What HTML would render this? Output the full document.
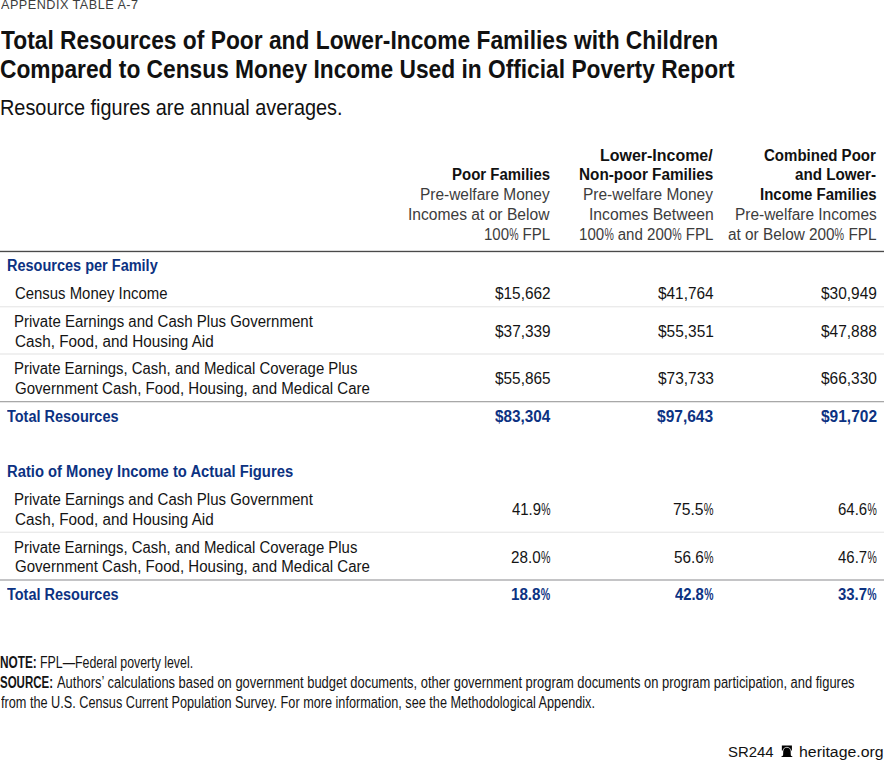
<!DOCTYPE html>
<html><head><meta charset='utf-8'><title>Appendix Table A-7</title><style>
*{margin:0;padding:0;box-sizing:border-box}
html,body{width:884px;height:760px;background:#fff;overflow:hidden}
body{position:relative;font-family:"Liberation Sans",Arial,sans-serif}
.t{position:absolute;white-space:nowrap;transform-origin:0 0}
.hr{position:absolute;left:0;width:884px}
.pc{display:inline-block;width:.622em;transform:scaleX(.7);transform-origin:0 0}
</style></head><body>
<div class="hr" style="top:250px;height:1px;background:#d9d9d9"></div>
<div class="hr" style="top:251px;height:1px;background:#4a4a4a"></div>
<div class="hr" style="top:252px;height:1px;background:#e4e4e4"></div>
<div class="hr" style="top:306px;height:1px;background:#ebebeb"></div>
<div class="hr" style="top:307px;height:1px;background:#f7f7f7"></div>
<div class="hr" style="top:353px;height:2px;background:#f0f0f0"></div>
<div class="hr" style="top:401px;height:1px;background:#a8a8a8"></div>
<div class="hr" style="top:402px;height:1px;background:#e6e6e6"></div>
<div class="hr" style="top:531px;height:1px;background:#f7f7f7"></div>
<div class="hr" style="top:532px;height:1px;background:#ebebeb"></div>
<div class="hr" style="top:579px;height:2px;background:#c4c4c6"></div>

<div class="t" style="top:-3px;left:0.644px;font-size:13px;line-height:16px;font-weight:400;color:#3d3d3d;letter-spacing:0.5px;transform:scaleX(0.9723);">APPENDIX TABLE A-7</div>
<div class="t" style="top:25px;left:0.675px;font-size:25px;line-height:30px;font-weight:700;color:#111;transform:scaleX(0.9112);">Total Resources of Poor and Lower-Income Families with Children</div>
<div class="t" style="top:54px;left:0.413px;font-size:25px;line-height:30px;font-weight:700;color:#111;transform:scaleX(0.9100);">Compared to Census Money Income Used in Official Poverty Report</div>
<div class="t" style="top:94px;left:0.273px;font-size:22.8px;line-height:27px;font-weight:400;color:#111;transform:scaleX(0.8719);">Resource figures are annual averages.</div>
<div class="t" style="top:165px;left:451.559px;font-size:16px;line-height:19px;font-weight:700;color:#111;transform:scaleX(0.9358);">Poor Families</div>
<div class="t" style="top:185px;left:420.083px;font-size:16px;line-height:19px;font-weight:400;color:#3c3c3c;transform:scaleX(0.9655);">Pre-welfare Money</div>
<div class="t" style="top:205px;left:408.080px;font-size:16px;line-height:19px;font-weight:400;color:#3c3c3c;transform:scaleX(0.9755);">Incomes at or Below</div>
<div class="t" style="top:225px;left:483.768px;font-size:16px;line-height:19px;font-weight:400;color:#3c3c3c;transform:scaleX(0.9372);">100<span class="pc">%</span> FPL</div>
<div class="t" style="top:146px;left:600.496px;font-size:16px;line-height:19px;font-weight:700;color:#111;transform:scaleX(0.9979);">Lower-Income/</div>
<div class="t" style="top:165px;left:579.106px;font-size:16px;line-height:19px;font-weight:700;color:#111;transform:scaleX(0.9563);">Non-poor Families</div>
<div class="t" style="top:185px;left:583.430px;font-size:16px;line-height:19px;font-weight:400;color:#3c3c3c;transform:scaleX(0.9676);">Pre-welfare Money</div>
<div class="t" style="top:205px;left:589.186px;font-size:16px;line-height:19px;font-weight:400;color:#3c3c3c;transform:scaleX(0.9804);">Incomes Between</div>
<div class="t" style="top:225px;left:578.699px;font-size:16px;line-height:19px;font-weight:400;color:#3c3c3c;transform:scaleX(0.9418);">100<span class="pc">%</span> and 200<span class="pc">%</span> FPL</div>
<div class="t" style="top:146px;left:764.442px;font-size:16px;line-height:19px;font-weight:700;color:#111;transform:scaleX(0.9390);">Combined Poor</div>
<div class="t" style="top:165px;left:795.054px;font-size:16px;line-height:19px;font-weight:700;color:#111;transform:scaleX(0.9493);">and Lower-</div>
<div class="t" style="top:185px;left:759.750px;font-size:16px;line-height:19px;font-weight:700;color:#111;transform:scaleX(0.9362);">Income Families</div>
<div class="t" style="top:205px;left:734.598px;font-size:16px;line-height:19px;font-weight:400;color:#3c3c3c;transform:scaleX(0.9661);">Pre-welfare Incomes</div>
<div class="t" style="top:225px;left:728.180px;font-size:16px;line-height:19px;font-weight:400;color:#3c3c3c;transform:scaleX(0.9592);">at or Below 200<span class="pc">%</span> FPL</div>
<div class="t" style="top:256px;left:7.446px;font-size:15.8px;line-height:19px;font-weight:700;color:#0c3282;transform:scaleX(0.9179);">Resources per Family</div>
<div class="t" style="top:284px;left:15.124px;font-size:15.8px;line-height:19px;font-weight:400;color:#141414;transform:scaleX(0.9438);">Census Money Income</div>
<div class="t" style="top:312px;left:13.920px;font-size:15.8px;line-height:19px;font-weight:400;color:#141414;transform:scaleX(0.9506);">Private Earnings and Cash Plus Government</div>
<div class="t" style="top:332px;left:14.811px;font-size:15.8px;line-height:19px;font-weight:400;color:#141414;transform:scaleX(0.9672);">Cash, Food, and Housing Aid</div>
<div class="t" style="top:359px;left:14.492px;font-size:15.8px;line-height:19px;font-weight:400;color:#141414;transform:scaleX(0.9446);">Private Earnings, Cash, and Medical Coverage Plus</div>
<div class="t" style="top:379px;left:14.822px;font-size:15.8px;line-height:19px;font-weight:400;color:#141414;transform:scaleX(0.9535);">Government Cash, Food, Housing, and Medical Care</div>
<div class="t" style="top:407px;left:7.039px;font-size:15.8px;line-height:19px;font-weight:700;color:#0c3282;transform:scaleX(0.9160);">Total Resources</div>
<div class="t" style="top:462px;left:7.186px;font-size:15.8px;line-height:19px;font-weight:700;color:#0c3282;transform:scaleX(0.9358);">Ratio of Money Income to Actual Figures</div>
<div class="t" style="top:490px;left:13.920px;font-size:15.8px;line-height:19px;font-weight:400;color:#141414;transform:scaleX(0.9506);">Private Earnings and Cash Plus Government</div>
<div class="t" style="top:510px;left:14.811px;font-size:15.8px;line-height:19px;font-weight:400;color:#141414;transform:scaleX(0.9672);">Cash, Food, and Housing Aid</div>
<div class="t" style="top:538px;left:14.492px;font-size:15.8px;line-height:19px;font-weight:400;color:#141414;transform:scaleX(0.9446);">Private Earnings, Cash, and Medical Coverage Plus</div>
<div class="t" style="top:557px;left:14.822px;font-size:15.8px;line-height:19px;font-weight:400;color:#141414;transform:scaleX(0.9535);">Government Cash, Food, Housing, and Medical Care</div>
<div class="t" style="top:585px;left:7.039px;font-size:15.8px;line-height:19px;font-weight:700;color:#0c3282;transform:scaleX(0.9160);">Total Resources</div>
<div class="t" style="top:284px;left:495.132px;font-size:16.8px;line-height:20px;font-weight:400;color:#141414;transform:scaleX(0.9166);">$15,662</div>
<div class="t" style="top:284px;left:658.141px;font-size:16.8px;line-height:20px;font-weight:400;color:#141414;transform:scaleX(0.9166);">$41,764</div>
<div class="t" style="top:284px;left:820.685px;font-size:16.8px;line-height:20px;font-weight:400;color:#141414;transform:scaleX(0.9207);">$30,949</div>
<div class="t" style="top:322px;left:495.267px;font-size:16.8px;line-height:20px;font-weight:400;color:#141414;transform:scaleX(0.9176);">$37,339</div>
<div class="t" style="top:322px;left:658.139px;font-size:16.8px;line-height:20px;font-weight:400;color:#141414;transform:scaleX(0.9217);">$55,351</div>
<div class="t" style="top:322px;left:820.685px;font-size:16.8px;line-height:20px;font-weight:400;color:#141414;transform:scaleX(0.9205);">$47,888</div>
<div class="t" style="top:369px;left:495.041px;font-size:16.8px;line-height:20px;font-weight:400;color:#141414;transform:scaleX(0.9173);">$55,865</div>
<div class="t" style="top:369px;left:658.138px;font-size:16.8px;line-height:20px;font-weight:400;color:#141414;transform:scaleX(0.9219);">$73,733</div>
<div class="t" style="top:369px;left:820.839px;font-size:16.8px;line-height:20px;font-weight:400;color:#141414;transform:scaleX(0.9218);">$66,330</div>
<div class="t" style="top:407px;left:494.888px;font-size:16.8px;line-height:20px;font-weight:700;color:#0c3282;transform:scaleX(0.9104);">$83,304</div>
<div class="t" style="top:407px;left:657.474px;font-size:16.8px;line-height:20px;font-weight:700;color:#0c3282;transform:scaleX(0.9255);">$97,643</div>
<div class="t" style="top:407px;left:820.747px;font-size:16.8px;line-height:20px;font-weight:700;color:#0c3282;transform:scaleX(0.9238);">$91,702</div>
<div class="t" style="top:500px;left:511.599px;font-size:16.8px;line-height:20px;font-weight:400;color:#141414;transform:scaleX(0.8901);">41.9<span class="pc">%</span></div>
<div class="t" style="top:500px;left:672.528px;font-size:16.8px;line-height:20px;font-weight:400;color:#141414;transform:scaleX(0.9355);">75.5<span class="pc">%</span></div>
<div class="t" style="top:500px;left:837.826px;font-size:16.8px;line-height:20px;font-weight:400;color:#141414;transform:scaleX(0.8933);">64.6<span class="pc">%</span></div>
<div class="t" style="top:548px;left:511.472px;font-size:16.8px;line-height:20px;font-weight:400;color:#141414;transform:scaleX(0.9067);">28.0<span class="pc">%</span></div>
<div class="t" style="top:548px;left:674.219px;font-size:16.8px;line-height:20px;font-weight:400;color:#141414;transform:scaleX(0.9127);">56.6<span class="pc">%</span></div>
<div class="t" style="top:548px;left:838.151px;font-size:16.8px;line-height:20px;font-weight:400;color:#141414;transform:scaleX(0.8908);">46.7<span class="pc">%</span></div>
<div class="t" style="top:585px;left:511.266px;font-size:16.8px;line-height:20px;font-weight:700;color:#0c3282;transform:scaleX(0.9032);">18.8<span class="pc">%</span></div>
<div class="t" style="top:585px;left:674.722px;font-size:16.8px;line-height:20px;font-weight:700;color:#0c3282;transform:scaleX(0.8834);">42.8<span class="pc">%</span></div>
<div class="t" style="top:585px;left:838.113px;font-size:16.8px;line-height:20px;font-weight:700;color:#0c3282;transform:scaleX(0.8873);">33.7<span class="pc">%</span></div>
<div class="t" style="top:653px;left:0.425px;font-size:16px;line-height:19px;font-weight:700;color:#141414;transform:scaleX(0.7380);">NOTE:</div>
<div class="t" style="top:653px;left:40.080px;font-size:16px;line-height:19px;font-weight:400;color:#141414;transform:scaleX(0.7720);">FPL—Federal poverty level.</div>
<div class="t" style="top:673px;left:0.017px;font-size:16px;line-height:19px;font-weight:700;color:#141414;transform:scaleX(0.7181);">SOURCE:</div>
<div class="t" style="top:673px;left:57.068px;font-size:16px;line-height:19px;font-weight:400;color:#141414;transform:scaleX(0.8076);">Authors’ calculations based on government budget documents, other government program documents on program participation, and figures</div>
<div class="t" style="top:693px;left:0.748px;font-size:16px;line-height:19px;font-weight:400;color:#141414;transform:scaleX(0.7926);">from the U.S. Census Current Population Survey. For more information, see the Methodological Appendix.</div>
<div class="t" style="top:742px;left:727.611px;font-size:15.5px;line-height:19px;font-weight:400;color:#111;transform:scaleX(0.9623);">SR244</div>
<div class="t" style="top:742px;left:799.435px;font-size:15.5px;line-height:19px;font-weight:400;color:#111;transform:scaleX(1.0225);">heritage.org</div>
<svg style="position:absolute;left:780px;top:744px" width="14" height="14" viewBox="0 0 14 14"><path d="M1.85 1.6 H11.9 V6.5 H10.62 L10.8 11.2 Q11.1 12.1 12.4 12.4 V12.9 H1.35 V12.4 Q2.7 12.1 3.1 11.2 L3.28 6.5 H1.85 Z" fill="#000"/><path d="M3.25 6.6 C3.25 4.4 4.8 3.35 6.9 3.35 C9.0 3.35 10.6 4.4 10.6 6.6" fill="none" stroke="#fff" stroke-width="0.75"/></svg>

</body></html>
